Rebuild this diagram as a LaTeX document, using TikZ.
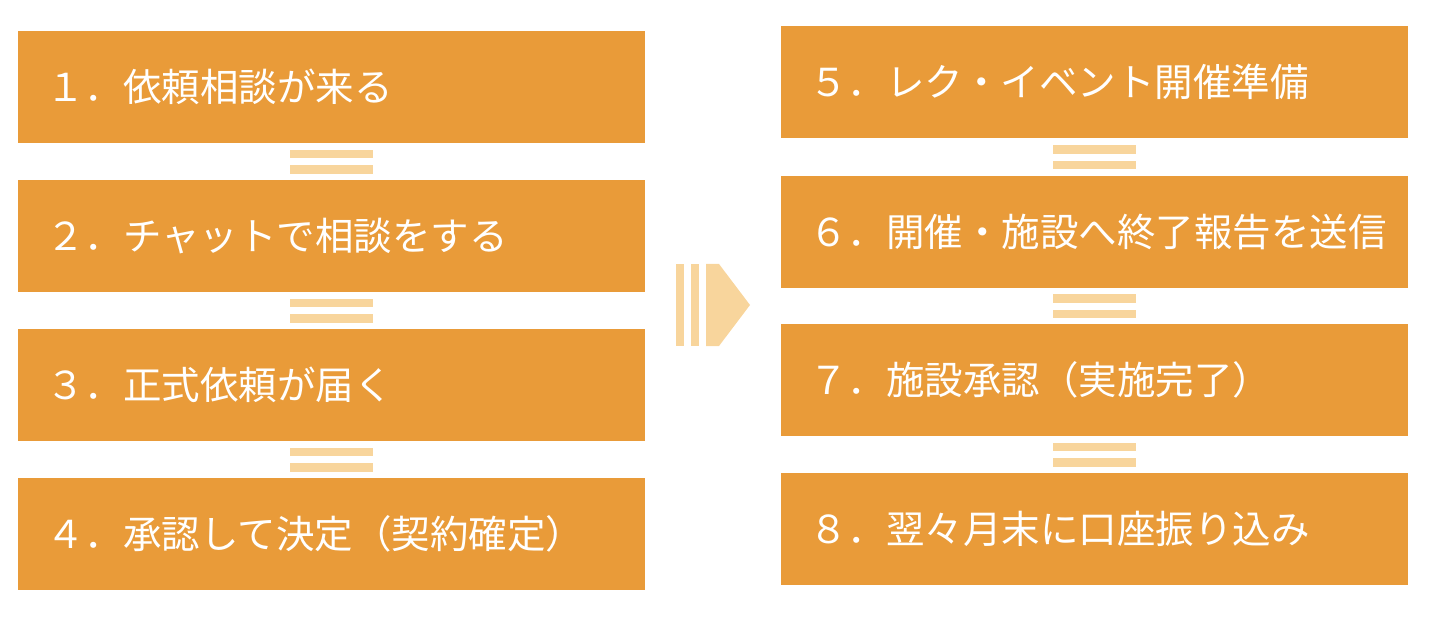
\documentclass[tikz,border=0pt]{standalone}
\usepackage{fontspec}
\usetikzlibrary{calc}
\newfontfamily\jpfont{Noto Sans CJK JP}
\definecolor{stepfill}{HTML}{E99B39}
\definecolor{barfill}{HTML}{F8D59C}
\begin{document}
\begin{tikzpicture}[x=1pt,y=-1pt]
	\tikzset{stepbox/.style={fill=stepfill,draw=none,anchor=north west,minimum width=627pt,minimum height=112pt,
		text width=571pt,inner xsep=28pt,align=left,text=white,font=\jpfont\fontsize{38.5}{42}\selectfont},
		bar/.style={fill=barfill,draw=none}}
	\useasboundingbox(0,0)rectangle(1432,620);
	% left column
	\node[stepbox](s1)at(18,31){１．依頼相談が来る};
	\node[stepbox](s2)at(18,180){２．チャットで相談をする};
	\node[stepbox](s3)at(18,329){３．正式依頼が届く};
	\node[stepbox](s4)at(18,478){４．承認して決定（契約確定）};
	% right column
	\node[stepbox](s5)at(781,26){５．レク・イベント開催準備};
	\node[stepbox](s6)at(781,176){６．開催・施設へ終了報告を送信};
	\node[stepbox](s7)at(781,324){７．施設承認（実施完了）};
	\node[stepbox](s8)at(781,473){８．翌々月末に口座振り込み};
	% double bars between steps
	\foreach \a/\b in {s1/s2,s2/s3,s3/s4,s5/s6,s6/s7,s7/s8}{
		\coordinate(m)at($(\a.south)!.5!(\b.north)$);
		\fill[barfill]([shift={(-41.5,-12)}]m)rectangle([shift={(41.5,-3.5)}]m);
		\fill[barfill]([shift={(-41.5,3.5)}]m)rectangle([shift={(41.5,12)}]m);
	}
	% arrow between columns
	\fill[barfill](676,264)rectangle(684,346);
	\fill[barfill](691,264)rectangle(699,346);
	\fill[barfill](706,264)--(719,264)--(750,305)--(719,346)--(706,346)--cycle;
\end{tikzpicture}
\end{document}
